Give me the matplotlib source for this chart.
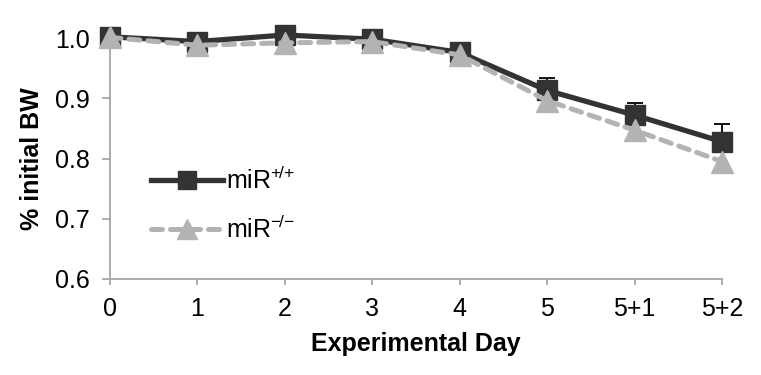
"""
body weight over the experimental days, wild type vs knockout
(excel-style line chart with upper error bars)
"""
import matplotlib
matplotlib.use("Agg")
import matplotlib.pyplot as plt

plt.rcParams["font.family"] = "sans-serif"
plt.rcParams["font.sans-serif"] = ["Liberation Sans"]
plt.rcParams["mathtext.fontset"] = "custom"
plt.rcParams["mathtext.rm"] = "Liberation Sans"
plt.rcParams["mathtext.it"] = "Liberation Sans:italic"
plt.rcParams["mathtext.bf"] = "Liberation Sans:bold"

DAYS = ["0", "1", "2", "3", "4", "5", "5+1", "5+2"]
WT_BW = [1.002, 0.994, 1.005, 0.998, 0.976, 0.913, 0.872, 0.828]
WT_ERR = [0.0, 0.003, 0.0, 0.002, 0.006, 0.020, 0.020, 0.029]
KO_BW = [1.001, 0.988, 0.992, 0.994, 0.972, 0.896, 0.847, 0.795]
YTICKS = [0.6, 0.7, 0.8, 0.9, 1.0]

DARK = "#333333"
LIGHT = "#b3b3b3"
AXGRAY = "#a6a6a6"

fig = plt.figure(figsize=(7.61, 3.75), dpi=100)
ax = fig.add_axes([110 / 761, 1 - 279 / 375, (722 - 110) / 761, (279 - 38) / 375])

x = list(range(len(DAYS)))

ax.errorbar(x, WT_BW, yerr=[[0] * len(WT_ERR), WT_ERR], fmt="none",
            ecolor="black", elinewidth=1.3, capsize=6, capthick=1.3,
            zorder=3, clip_on=False)
ax.plot(x, WT_BW, color=DARK, lw=3.8, marker="s", ms=15, mfc=DARK, mec=DARK,
        label=r"miR$^{+\!/\!+}$", zorder=4, clip_on=False)
ax.plot(x, KO_BW, color=LIGHT, lw=3.6, ls=(0, (2.2, 1.6)), dash_capstyle="round",
        marker="^", ms=16, mfc=LIGHT, mec=LIGHT, label=r"miR$^{-\!/\!-}$",
        zorder=5, clip_on=False)

ax.set_xlim(0, len(DAYS) - 1)
ax.set_ylim(0.6, 1.0)
ax.set_xticks(x)
ax.set_xticklabels(DAYS, fontsize=18)
ax.set_yticks(YTICKS)
ax.set_yticklabels([f"{t:.1f}" for t in YTICKS], fontsize=18)

ax.set_xlabel("Experimental Day", fontsize=18, fontweight="bold", labelpad=8)
ax.set_ylabel("% initial BW", fontsize=18, fontweight="bold", labelpad=8)

for side in ["top", "right"]:
    ax.spines[side].set_visible(False)
for side in ["left", "bottom"]:
    ax.spines[side].set_color(AXGRAY)
    ax.spines[side].set_linewidth(1.3)
ax.tick_params(axis="y", direction="out", length=5.5, width=1.3, color=AXGRAY, pad=9)
ax.tick_params(axis="x", direction="out", length=4, width=1.3, color=AXGRAY, pad=9)

leg = ax.legend(loc="upper left", bbox_to_anchor=(0.03, 0.56), frameon=False,
                fontsize=18, handlelength=2.9, handletextpad=0.1,
                labelspacing=0.9, numpoints=1, markerscale=0.9)

fig.savefig("out.png", dpi=100)
